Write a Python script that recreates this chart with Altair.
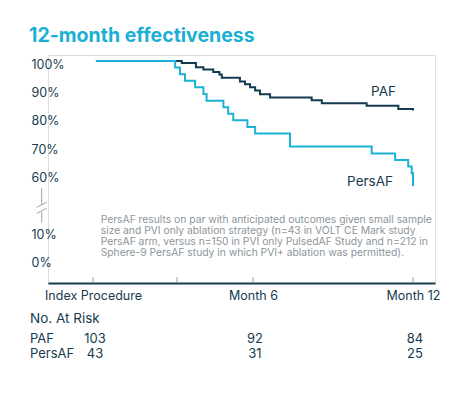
import altair as alt
import pandas as pd

# ---- data ----
paf_month = [0.11, 3.33, 3.86, 4.14, 4.51, 4.74, 4.83, 5.51, 5.70, 5.89, 6.08, 6.26, 6.64, 8.20, 8.58, 10.26, 11.45, 12.0]
paf_pct = [100, 99.3, 97.8, 97.0, 96.1, 95.2, 94.1, 92.8, 91.8, 90.7, 89.6, 88.3, 87.1, 86.2, 85.1, 84.2, 83.1, 82.5]

persaf_month = [0.11, 3.08, 3.26, 3.45, 3.83, 4.14, 4.26, 4.89, 5.07, 5.26, 5.79, 6.08, 7.39, 10.45, 11.33, 11.82, 11.95, 12.0]
persaf_pct = [100, 97.7, 95.3, 93.0, 90.7, 88.4, 86.0, 83.7, 81.4, 79.1, 76.7, 74.4, 69.8, 67.4, 65.1, 62.8, 60.5, 55.8]

series_names = ["PAF", "PersAF"]
series_colors = ["#123a50", "#1ab3d5"]

# y axis: broken axis, 10% and 0% drawn below the break
ytick_pos = [30, 40, 60, 70, 80, 90, 100]
ytick_labels = ["0%", "10%", "60%", "70%", "80%", "90%", "100%"]

xtick_months = [0, 6, 12]
xtick_labels = ["Index Procedure", "Month 6", "Month 12"]
minor_tick_months = [0, 3.15, 6, 12]

risk_months = [0, 6, 12]
risk_paf = [103, 92, 84]
risk_persaf = [43, 31, 25]

label_month = [11.36, 11.25]
label_pct = [89.1, 57.3]

title_text = "12-month effectiveness"
note_lines = [
    "PersAF results on par with anticipated outcomes given small sample",
    "size and PVI only ablation strategy (n=43 in VOLT CE Mark study",
    "PersAF arm, versus n=150 in PVI only PulsedAF Study and n=212 in",
    "Sphere-9 PersAF study in which PVI+ ablation was permitted).",
]

NAVY = "#163b4f"
GREY = "#8b959c"
FONT = "Inter"

W, H = 387, 228

curves = pd.DataFrame(
    {"series": ["PAF"] * len(paf_month) + ["PersAF"] * len(persaf_month),
     "month": paf_month + persaf_month,
     "pct": paf_pct + persaf_pct}
)

xscale = alt.Scale(domain=[-1.6875, 12.825], nice=False, zero=False)
yscale = alt.Scale(domain=[21.69, 102.12], nice=False, zero=False)
cscale = alt.Scale(domain=series_names, range=series_colors)

label_map = " : ".join(
    f"datum.value == {p} ? '{l}'" for p, l in zip(ytick_pos, ytick_labels)
) + " : ''"
xlabel_map = " : ".join(
    f"datum.value == {m} ? '{l}'" for m, l in zip(xtick_months, xtick_labels)
) + " : ''"

xaxis = alt.Axis(values=xtick_months, labelExpr=xlabel_map, ticks=False, grid=False,
                 domainColor=NAVY, domainWidth=2, labelColor=NAVY, labelFont=FONT,
                 labelFontSize=12.5, labelPadding=6, title=None, labelOverlap=False,
                 labelFlush=False, labelBound=False)
yaxis = alt.Axis(values=ytick_pos, labelExpr=label_map, ticks=False, tickSize=0,
                 grid=False, domain=False, labelAlign="left", labelBaseline="middle",
                 labelPadding=17, labelOffset=3, labelColor=NAVY, labelFont=FONT,
                 labelFontSize=12.5, title=None, labelOverlap=False,
                 labelFlush=False, labelBound=False)

lines = alt.Chart(curves).mark_line(interpolate="step-after", strokeWidth=2).encode(
    x=alt.X("month:Q", scale=xscale, axis=xaxis),
    y=alt.Y("pct:Q", scale=yscale, axis=yaxis),
    color=alt.Color("series:N", scale=cscale, legend=None),
    detail="series:N",
)

ticks_df = pd.DataFrame({"month": minor_tick_months})
ticks = alt.Chart(ticks_df).mark_rule(color="#98a3a9", strokeWidth=1).encode(
    x=alt.X("month:Q", scale=xscale, axis=xaxis),
    y=alt.value(H - 6),
    y2=alt.value(H - 1),
)

labels_df = pd.DataFrame({"series": series_names, "month": label_month, "pct": label_pct})
series_labels = alt.Chart(labels_df).mark_text(
    align="right", baseline="middle", font=FONT, fontSize=13.5, color=NAVY
).encode(
    x=alt.X("month:Q", scale=xscale, axis=xaxis),
    y=alt.Y("pct:Q", scale=yscale, axis=yaxis),
    text="series:N",
)

risk_df = pd.DataFrame({"month": risk_months, "paf": risk_paf, "persaf": risk_persaf})
risk_paf_txt = alt.Chart(risk_df).mark_text(
    align="center", baseline="middle", font=FONT, fontSize=13, color=NAVY, dx=2
).encode(x=alt.X("month:Q", scale=xscale, axis=xaxis), y=alt.value(283.5), text="paf:Q")
risk_pers_txt = alt.Chart(risk_df).mark_text(
    align="center", baseline="middle", font=FONT, fontSize=13, color=NAVY, dx=2
).encode(x=alt.X("month:Q", scale=xscale, axis=xaxis), y=alt.value(298.5), text="persaf:Q")

row_df = pd.DataFrame({"t": ["No. At Risk", "PAF", "PersAF"], "yy": [264, 283.5, 298.5],
                       "fs": [13.5, 13, 13]})
row_txt = alt.Chart(row_df).mark_text(
    align="left", baseline="middle", font=FONT, color=NAVY
).encode(x=alt.value(-18), y=alt.Y("yy:Q", scale=None), text="t:N",
         size=alt.Size("fs:Q", scale=None, legend=None))

title_df = pd.DataFrame({"t": [title_text]})
title = alt.Chart(title_df).mark_text(
    align="left", baseline="alphabetic", font=FONT, fontSize=19.5, fontWeight="bold", color="#1ab0d3"
).encode(x=alt.value(-19), y=alt.value(-13), text="t:N")

note_df = pd.DataFrame({"t": ["\n".join(note_lines)]})
note = alt.Chart(note_df).mark_text(
    align="left", baseline="top", font=FONT, fontSize=10.3, color=GREY, lineBreak="\n",
    lineHeight=11.1
).encode(x=alt.value(52.7), y=alt.value(160), text="t:N")

# axis-break symbol
brk_df = pd.DataFrame({
    "x1": [-6.3, -6.3, -11.3, -11.3],
    "x2": [-6.3, -6.3, -1.3, -1.3],
    "y1": [133.3, 156.7, 152.3, 158.3],
    "y2": [150.0, 167.7, 147.3, 153.3],
})
brk = alt.Chart(brk_df).mark_rule(color="#9aa4aa", strokeWidth=1).encode(
    x=alt.X("x1:Q", scale=None), x2="x2:Q",
    y=alt.Y("y1:Q", scale=None), y2="y2:Q",
)

chart = alt.layer(
    lines, ticks, series_labels, risk_paf_txt, risk_pers_txt, row_txt, title, note, brk
).properties(
    width=W, height=H,
    padding={"left": 40, "top": 47, "right": 19, "bottom": 100},
    autosize=alt.AutoSizeParams(type="none"),
).configure_view(stroke=None).configure(background="white")

chart.save("out.html", embed_options={"renderer": "svg", "actions": False})
